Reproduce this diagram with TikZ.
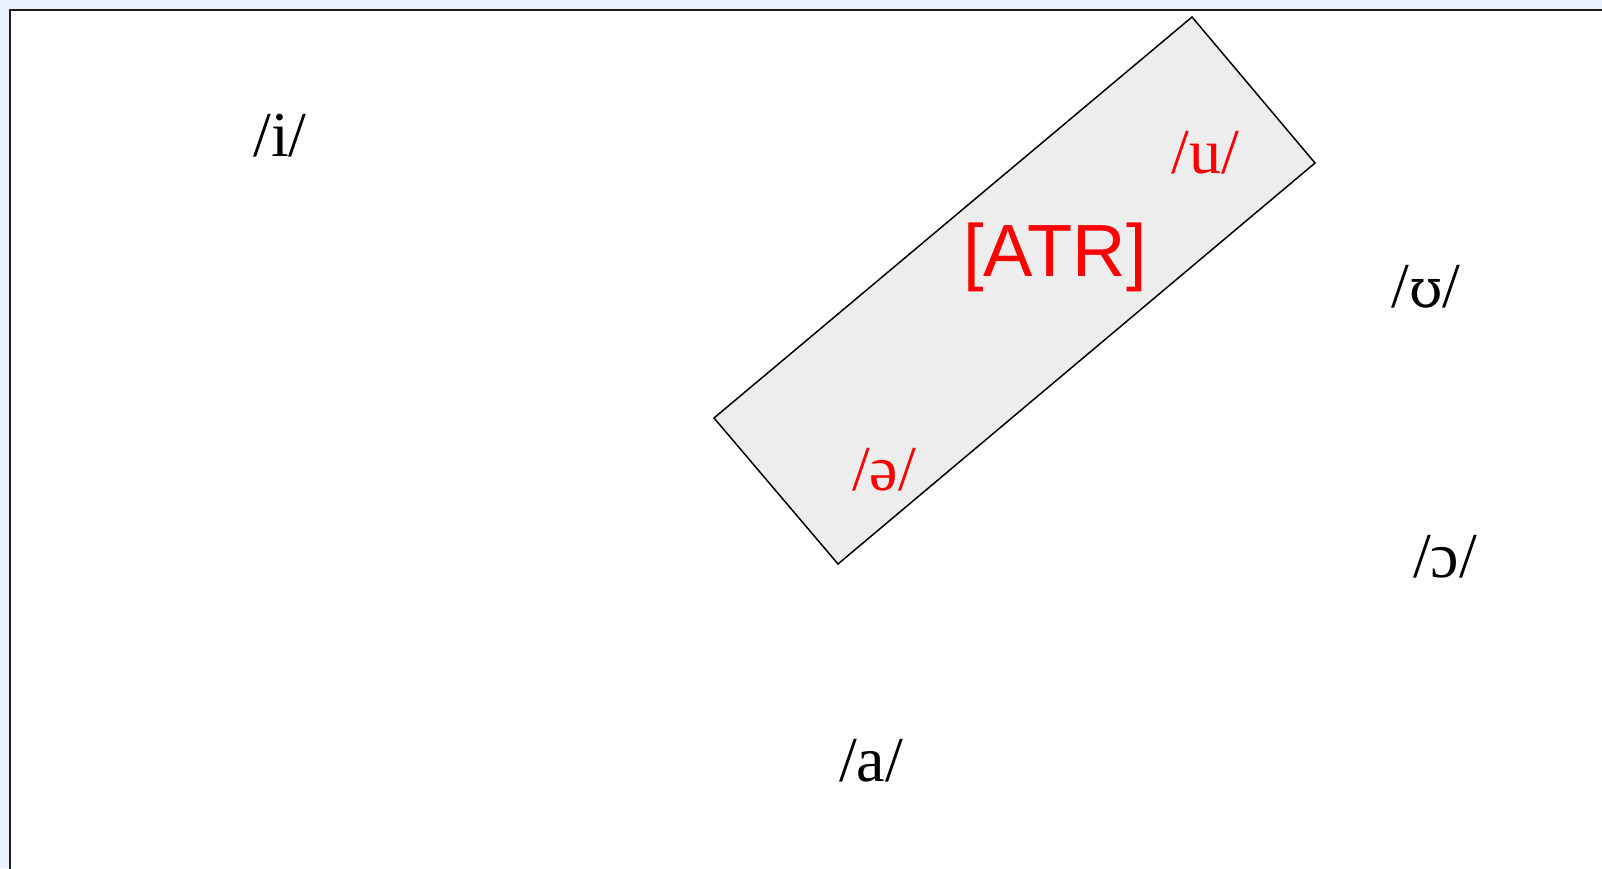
\documentclass[tikz,border=0pt]{standalone}
\usepackage{fontspec}
\setmainfont{Liberation Serif}
\newfontfamily\atrfont{Liberation Sans}
\newfontfamily\ipafont{DejaVu Serif}
\definecolor{bgblue}{RGB}{234,243,253}
\definecolor{framecol}{RGB}{30,30,30}
\definecolor{atrgray}{RGB}{237,237,237}
\definecolor{atrred}{RGB}{255,0,0}
\begin{document}
\begin{tikzpicture}[x=1pt,y=-1pt,
  vowel/.style={inner sep=0pt,font=\fontsize{64}{64}\selectfont},
  atrvowel/.style={vowel,text=atrred},
  atrlabel/.style={inner sep=0pt,text=atrred,font=\atrfont\fontsize{74}{74}\selectfont}]
\useasboundingbox (0,0) rectangle (1602,868);
\clip (0,0) rectangle (1602,868);
\fill[bgblue] (0,0) rectangle (1602,868);
\filldraw[fill=white,draw=framecol,line width=2pt] (10,10) rectangle (1620,890);
\filldraw[fill=atrgray,draw=black,line width=1.5pt] (1192,17) -- (1315,163) -- (838,564) -- (714,418) -- cycle;
\node[vowel] (i) at (280,136) {/i/};
\node[atrvowel] (u) at (1205,153) {/u/};
\node[atrlabel] (atr) at (1055,257) {[ATR]};
\node[vowel] (upsilon) at (1426,287) {/{\ipafont\fontsize{54}{54}\selectfont ʊ}/};
\node[atrvowel] (schwa) at (884,470) {/ə/};
\node[vowel] (openo) at (1445,557) {/ɔ/};
\node[vowel] (a) at (871,761) {/a/};
\end{tikzpicture}
\end{document}
